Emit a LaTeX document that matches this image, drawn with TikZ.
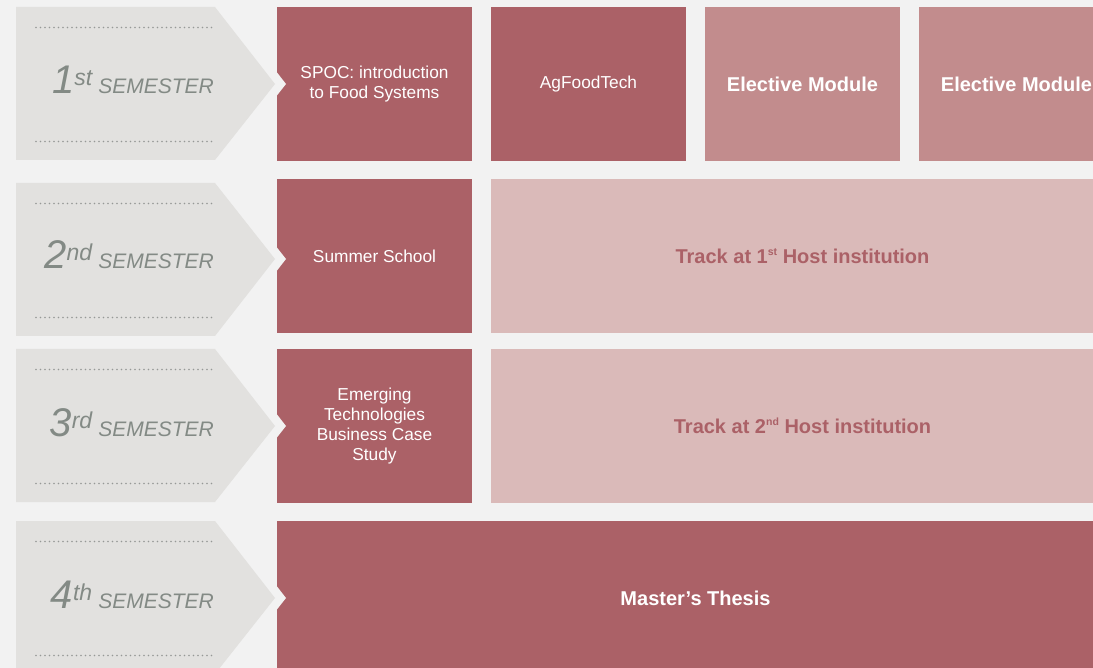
\documentclass[tikz,border=0pt]{standalone}
\usepackage{fontspec}
\setmainfont{Liberation Sans}
\usetikzlibrary{positioning}
\definecolor{smBg}{RGB}{242,242,242}
\definecolor{smGray}{RGB}{226,225,223}
\definecolor{smText}{RGB}{131,138,133}
\definecolor{smDots}{RGB}{150,152,150}
\definecolor{smDark}{RGB}{171,97,103}
\definecolor{smMid}{RGB}{194,140,141}
\definecolor{smLight}{RGB}{218,186,185}
\newcommand{\trsup}[1]{\raisebox{8pt}{\fontsize{10.5}{10}\selectfont #1}}

\begin{document}
\begin{tikzpicture}[x=1pt, y=-1pt,
  box/.style={minimum width=195, minimum height=154, inner sep=0pt, outer sep=0pt, align=center},
  darkbox/.style={box, fill=smDark, text=white, font=\fontsize{17.3}{20}\selectfont},
  midbox/.style={box, fill=smMid, text=white, font=\bfseries\fontsize{20}{22}\selectfont},
  lightbox/.style={box, fill=smLight, text=smDark, font=\bfseries\fontsize{20}{22}\selectfont},
  semlabel/.style={inner sep=0pt, text=smText, font=\itshape},
  dotline/.style={smDots, line width=1.8pt, line cap=round, dash pattern=on 0pt off 4.5pt}]
  \useasboundingbox (0,0) rectangle (1093,668);
  \clip (0,0) rectangle (1093,668);
  \fill[smBg] (0,0) rectangle (1093,668);

  % modules
  \node[darkbox, anchor=north west] (spoc) at (277,7) {SPOC: introduction\\to Food Systems};
  \node[darkbox, right=19pt of spoc] (agft) {AgFoodTech};
  \node[midbox, right=19pt of agft] (elecA) {Elective Module};
  \node[midbox, right=19pt of elecA] (elecB) {Elective Module};

  \node[darkbox, below=18pt of spoc] (summer) {Summer School};
  \node[lightbox, minimum width=623, right=19pt of summer] (trackA) {Track at 1\trsup{st} Host institution};

  \node[darkbox, below=16pt of summer] (emerg) {Emerging\\Technologies\\Business Case\\Study};
  \node[lightbox, minimum width=623, right=19pt of emerg] (trackB) {Track at 2\trsup{nd} Host institution};

  \node[darkbox, minimum width=837, below=18pt of emerg.south west, anchor=north west] (thesis) {\bfseries\fontsize{20}{22}\selectfont Master’s Thesis};

  % semesters
  \foreach \yt/\yc/\num/\ord in {7/84/1/st, 183/259/2/nd, 349/426/3/rd, 521/598/4/th} {
    \fill[smBg, xshift=11pt] (16,\yt) -- (215,\yt) -- (275,\yc) -- (215,\yt+153) -- (16,\yt+153) -- cycle;
    \fill[smGray] (16,\yt) -- (215,\yt) -- (275,\yc) -- (215,\yt+153) -- (16,\yt+153) -- cycle;
    \draw[dotline] (36,\yt+20.5) -- (215,\yt+20.5);
    \draw[dotline] (36,\yt+134.5) -- (215,\yt+134.5);
    \node[semlabel, anchor=base east] (sem\num) at (214,\yc+10)
      {\fontsize{40}{40}\selectfont\num\raisebox{8pt}{\fontsize{23}{23}\selectfont\ord}\hspace{6pt}\fontsize{21}{20}\selectfont SEMESTER};
  }
\end{tikzpicture}
\end{document}
